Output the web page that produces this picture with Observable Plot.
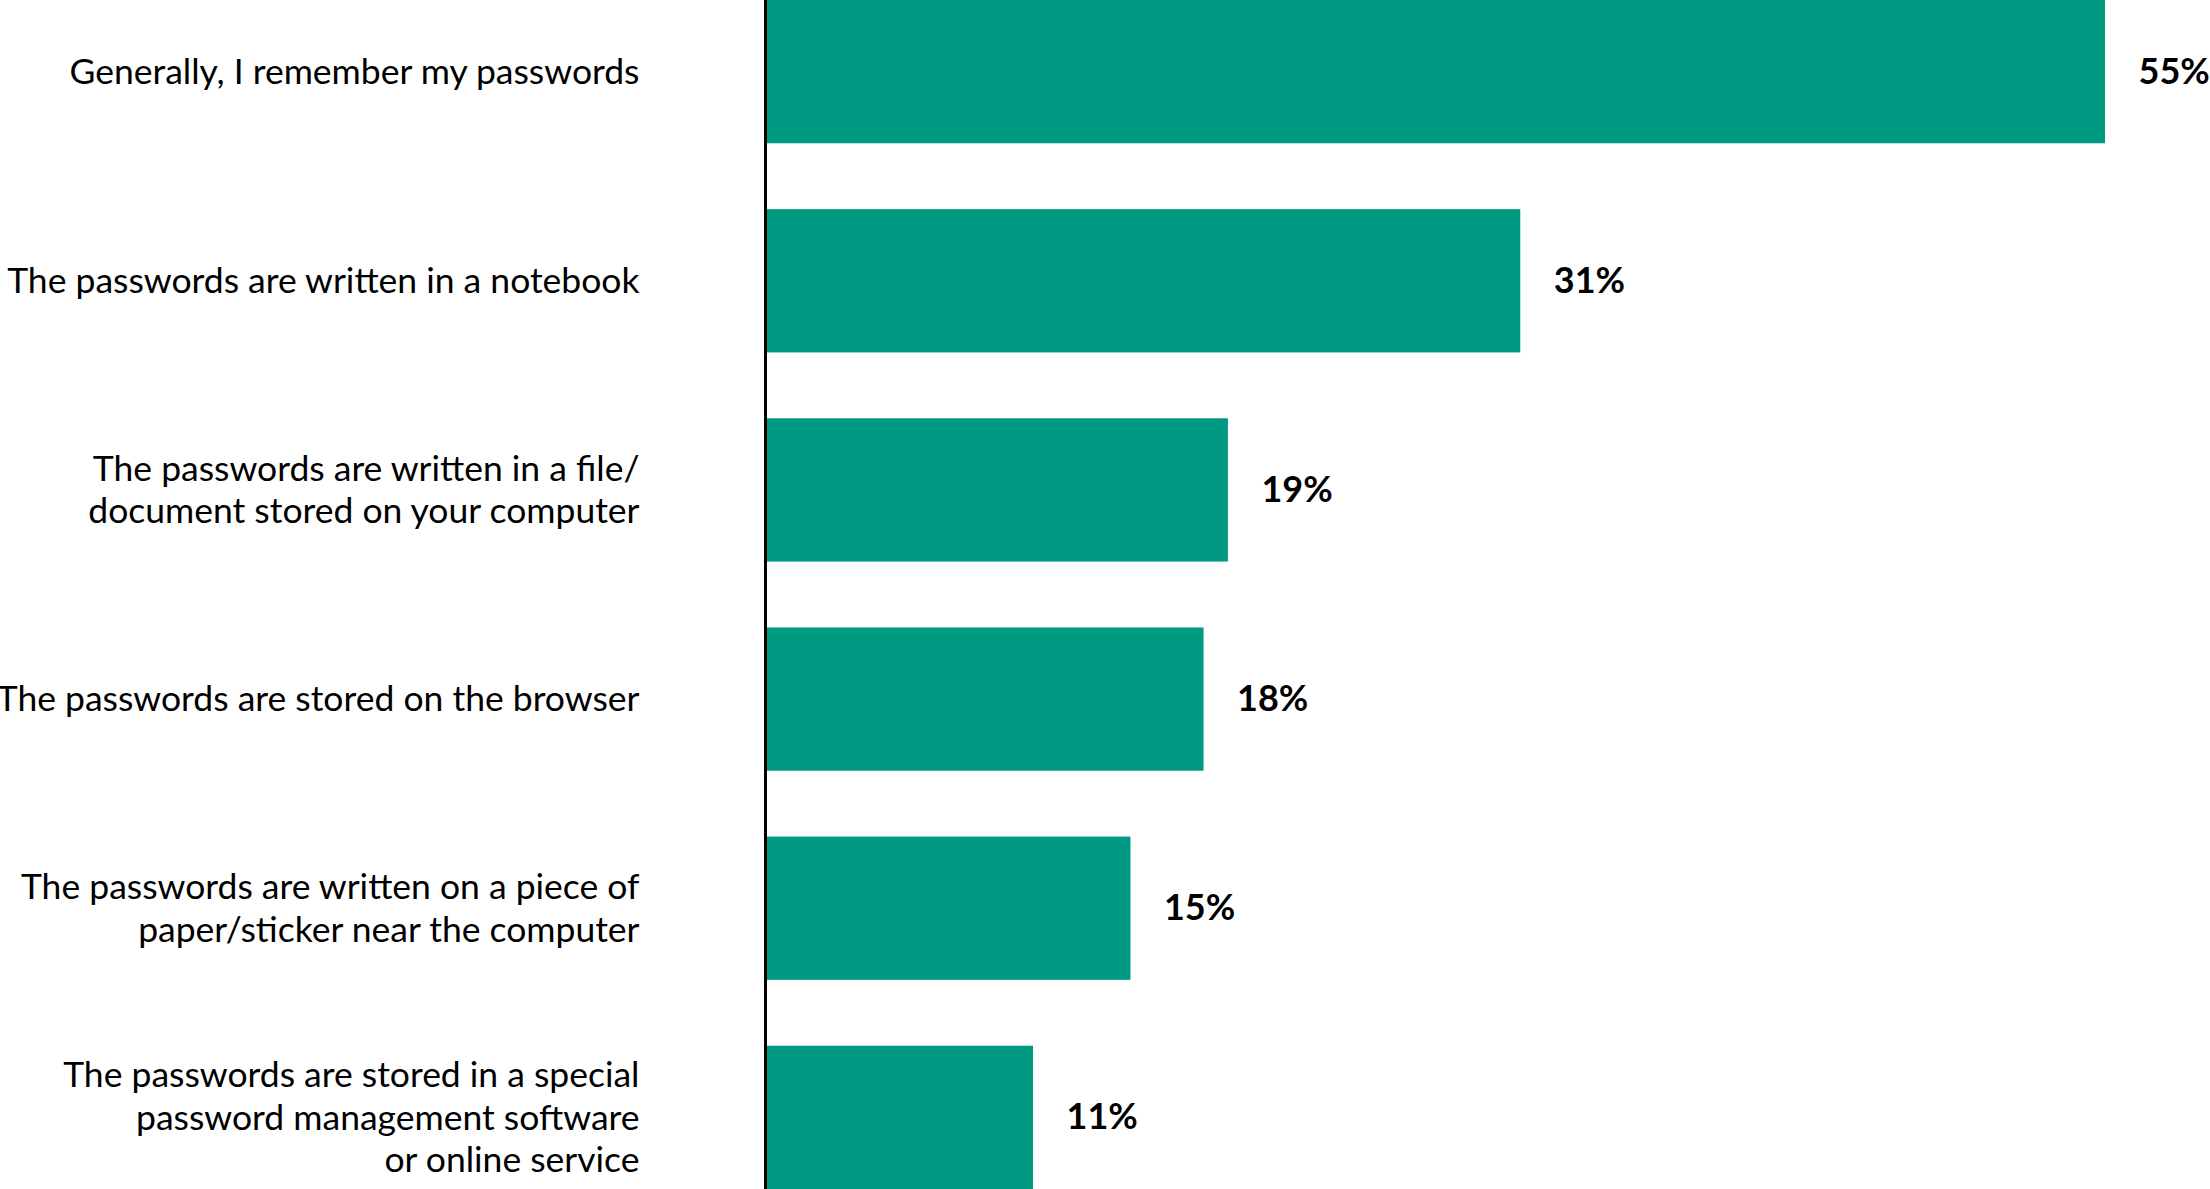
<!DOCTYPE html>
<html>
<head>
<meta charset="utf-8">
<script src="https://cdn.jsdelivr.net/npm/d3@7"></script>
<script src="https://cdn.jsdelivr.net/npm/@observablehq/plot@0.6"></script>
<style>
  html, body { margin: 0; padding: 0; background: #fff; }
  #chart svg { display: block; overflow: visible; }
</style>
</head>
<body>
<div id="chart"></div>
<script>
const categories = [
  "Generally, I remember my passwords",
  "The passwords are written in a notebook",
  "The passwords are written in a file/\ndocument stored on your computer",
  "The passwords are stored on the browser",
  "The passwords are written on a piece of\npaper/sticker near the computer",
  "The passwords are stored in a special\npassword management software\nor online service"
];
const values = [55, 31, 19, 18, 15, 11];

const data = categories.map((c, i) => ({cat: c, value: values[i]}));

const chart = Plot.plot({
  width: 2210,
  height: 1189,
  marginLeft: 765,
  marginRight: 105,
  marginTop: 0,
  marginBottom: 0,
  style: {background: "#fff", overflow: "visible"},
  x: {domain: [0, 55], axis: null},
  y: {domain: categories, paddingInner: 0.315, paddingOuter: 0, round: false, axis: null},
  marks: [
    Plot.barX(data, {x: "value", y: "cat", fill: "#009a82"}),
    Plot.ruleX([0], {stroke: "#000", strokeWidth: 3}),
    Plot.text(data, {
      x: 0, y: "cat", text: "cat", dx: -126, dy: -2, textAnchor: "end",
      lineAnchor: "middle", lineHeight: 1.2,
      fontSize: 35.5, fontFamily: "Lato, 'Liberation Sans', sans-serif", fill: "#000"
    }),
    Plot.text(data, {
      x: "value", y: "cat", text: d => d.value + "%", dx: 33, textAnchor: "start",
      fontSize: 36, fontWeight: "bold", fontFamily: "Lato, 'Liberation Sans', sans-serif", fill: "#000"
    })
  ]
});
document.getElementById("chart").appendChild(chart);
</script>
</body>
</html>
